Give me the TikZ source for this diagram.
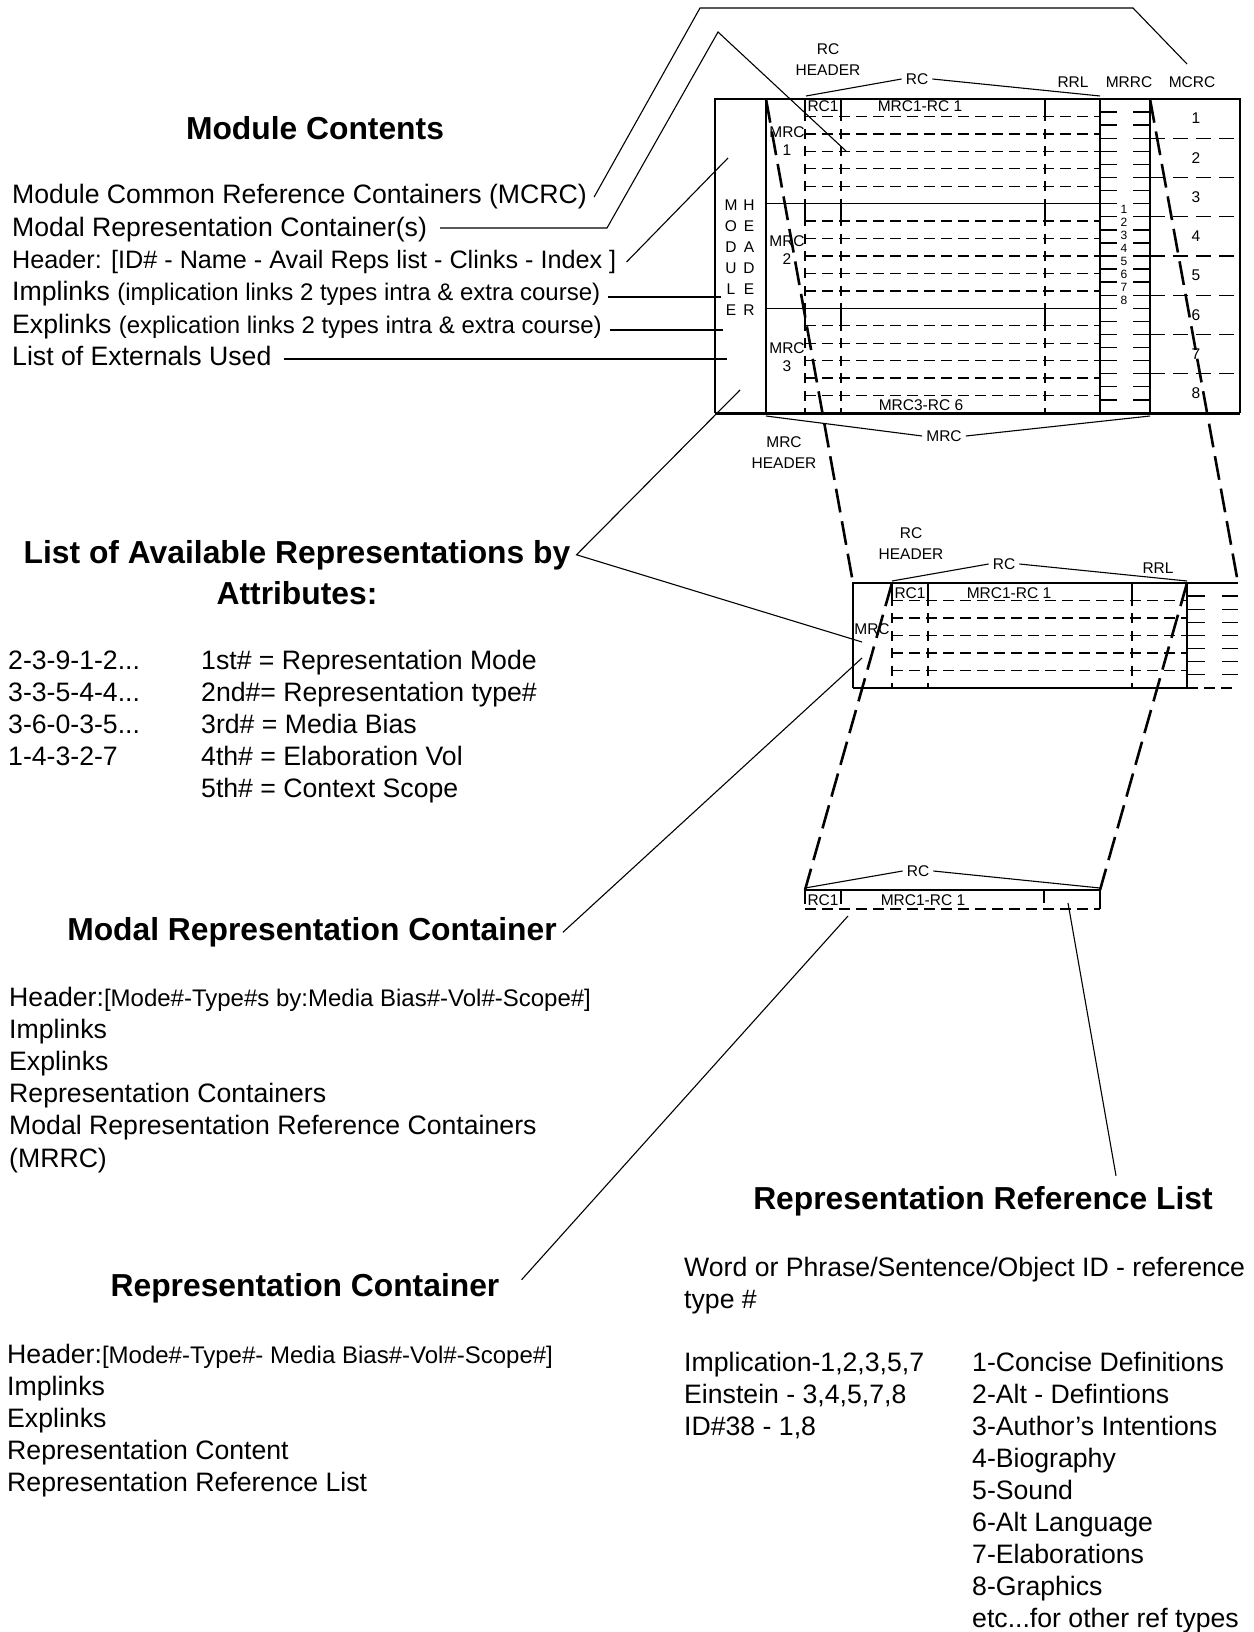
\documentclass[tikz,border=0pt]{standalone}
\usepackage{fontspec}
\setmainfont{Liberation Sans}
\usepackage{tikz}

\newcommand{\txt}{\fontsize{26.65}{31}\selectfont}
\newcommand{\sml}{\fontsize{24}{28}\selectfont}
\newcommand{\hdg}{\fontsize{31.8}{38}\selectfont\bfseries}
\newcommand{\lbl}{\fontsize{15.5}{21}\selectfont}
\newcommand{\tny}{\fontsize{12}{13}\selectfont}
\newcommand{\dts}{...}

\begin{document}
\begin{tikzpicture}[x=1pt, y=-1pt,
  body/.style={anchor=base west, inner sep=0pt, font=\txt},
  head/.style={anchor=base, inner sep=0pt, font=\hdg},
  lab/.style={inner sep=1pt, font=\lbl, align=center},
  lead/.style={line width=1.1pt},
  frame/.style={line width=1.4pt},
  rows/.style={line width=1.3pt, dash pattern=on 11pt off 6pt},
  ticks/.style={line width=1.3pt, dash pattern=on 10pt off 7.44pt, dash phase=5pt},
  link/.style={line width=2.6pt, dash pattern=on 24pt off 9pt}]
  \useasboundingbox (0,0) rectangle (1253,1632);

  %% module (top box)
  \draw[frame] (715,413) -- (715,99) -- (1240,99) -- (1240,413);
  \draw[line width=3pt] (715,413) -- (1240,413);
  \draw[frame] (766,99) -- (766,413);
  \draw[frame] (1100,99) -- (1100,413);
  \draw[frame] (1150,99) -- (1150,413);
  \draw[frame] (766,203.7) -- (1100,203.7);
  \draw[frame] (766,308.3) -- (1100,308.3);
  \foreach \m in {0,1,2}{
    \pgfmathsetmacro{\ya}{99+104.67*\m}
    \foreach \r in {1,...,5}
      \draw[rows] (805,\ya+17.44*\r) -- (1100,\ya+17.44*\r);
    \foreach \xx in {805,841,1045}{
      \draw[frame] (\xx,\ya) -- (\xx,\ya+17.44);
      \draw[ticks] (\xx,\ya+17.44) -- (\xx,\ya+104.67);
    }
  }
  % MRRC column
  \foreach \k in {1,...,23}{
    \draw[frame] (1100,99+13.08*\k) -- (1117,99+13.08*\k);
    \draw[frame] (1133,99+13.08*\k) -- (1150,99+13.08*\k);
  }
  \foreach \i in {1,...,8}
    \node[font=\tny, inner sep=0pt] (mrrc\i) at (1124,196.2+13.08*\i) {\i};
  % MCRC column
  \foreach \k in {1,...,7}
    \draw[frame, dash pattern=on 15pt off 8pt] (1150,99+39.25*\k) -- (1240,99+39.25*\k);
  \foreach \i in {1,...,8}
    \node[lab] (mcrc\i) at (1196,79.4+39.25*\i) {\i};
  % MODULE HEADER letters
  \foreach \a/\b [count=\i from 0] in {M/H,O/E,D/A,U/D,L/E,E/R}{
    \node[lab] (mha\i) at (731,205+21*\i) {\a};
    \node[lab] (mhb\i) at (749,205+21*\i) {\b};
  }
  \node[lab] (mrc1) at (787,141) {MRC\\[-3pt]1};
  \node[lab] (mrc2) at (787,250) {MRC\\[-3pt]2};
  \node[lab] (mrc3) at (787,357) {MRC\\[-3pt]3};
  \node[lab] (rc1top) at (823,106) {RC1};
  \node[lab] (rcnametop) at (920,106) {MRC1-RC 1};
  \node[lab] (rclasttop) at (921,405) {MRC3-RC 6};
  \node[lab] (rchtop) at (828,60) {RC\\HEADER};
  \node[lab] (rrltop) at (1073,82) {RRL};
  \node[lab] (mrrctop) at (1129,82) {MRRC};
  \node[lab] (mcrclab) at (1192,82) {MCRC};
  \node[lab, inner xsep=4pt] (rctop) at (917,79) {RC};
  \draw[lead] (806,96) -- (rctop.west);
  \draw[lead] (rctop.east) -- (1100,96);
  \node[lab, inner xsep=4pt] (mrcbr) at (944,436) {MRC};
  \draw[lead] (766,416) -- (mrcbr.west);
  \draw[lead] (mrcbr.east) -- (1150,416);
  \node[lab] (mrchdr) at (784,453) {MRC\\HEADER};

  %% modal representation container (middle box)
  \draw[frame] (853,688) -- (853,583) -- (1238,583);
  \draw[frame] (853,688) -- (1187,688);
  \draw[frame] (1187,583) -- (1187,688);
  \draw[frame, dash pattern=on 11pt off 6pt] (1187,688) -- (1238,688);
  \foreach \r in {1,...,5}
    \draw[rows] (892,583+17.5*\r) -- (1187,583+17.5*\r);
  \foreach \xx in {892,928,1132}{
    \draw[frame] (\xx,583) -- (\xx,600.5);
    \draw[ticks, dash pattern=on 10pt off 7.5pt] (\xx,600.5) -- (\xx,688);
  }
  \foreach \k in {1,...,7}{
    \draw[frame] (1187,583+13.1*\k) -- (1205,583+13.1*\k);
    \draw[frame] (1222,583+13.1*\k) -- (1238,583+13.1*\k);
  }
  \node[lab] (mrcmid) at (872,629) {MRC};
  \node[lab] (rc1mid) at (910,593) {RC1};
  \node[lab] (rcnamemid) at (1009,593) {MRC1-RC 1};
  \node[lab] (rchmid) at (911,544) {RC\\HEADER};
  \node[lab] (rrlmid) at (1158,568) {RRL};
  \node[lab, inner xsep=4pt] (rcmid) at (1004,564) {RC};
  \draw[lead] (892,581) -- (rcmid.west);
  \draw[lead] (rcmid.east) -- (1187,581);

  %% representation container (bottom bar)
  \draw[frame] (805,890) -- (1100,890);
  \draw[frame, dash pattern=on 11pt off 6pt] (805,909) -- (1100,909);
  \draw[frame] (805,890) -- (805,904);
  \draw[frame] (841,890) -- (841,904);
  \draw[frame] (1044,890) -- (1044,903);
  \draw[frame] (1100,890) -- (1100,909);
  \node[lab] (rc1bot) at (823,900) {RC1};
  \node[lab] (rcnamebot) at (923,900) {MRC1-RC 1};
  \node[lab, inner xsep=4pt] (rcbot) at (918,871) {RC};
  \draw[lead] (805,888) -- (rcbot.west);
  \draw[lead] (rcbot.east) -- (1100,888);

  %% zoom links
  \coordinate (mhtop) at (766,99);
  \coordinate (mcrctop) at (1150,99);
  \coordinate (midtl) at (853,583);
  \coordinate (midtr) at (1238,583);
  \coordinate (midrc) at (892,583);
  \coordinate (midrrl) at (1187,583);
  \coordinate (botl) at (805,890);
  \coordinate (botr) at (1100,890);
  \draw[link] (mhtop) -- (midtl);
  \draw[link] (mcrctop) -- (midtr);
  \draw[link] (midrc) -- (botl);
  \draw[link] (midrrl) -- (botr);

  %% module contents
  \node[head] (modhead) at (315,140) {Module Contents};
  \node[body] (mcrctxt) at (12,204) {Module Common Reference Containers (MCRC)};
  \node[body] (mrctxt) at (12,236.3) {Modal Representation Container(s)};
  \node[body, font=\fontsize{25.2}{31}\selectfont] (headtxt) at (12,268.6) {Header: [ID\# - Name - Avail Reps list - Clinks - Index ]};
  \node[body] (impltxt) at (12,300.9) {Implinks {\sml (implication links 2 types intra \& extra course)}};
  \node[body] (expltxt) at (12,333.2) {Explinks {\sml (explication links 2 types intra \& extra course)}};
  \node[body] (listtxt) at (12,365.5) {List of Externals Used};

  \coordinate (k1) at (700,8);
  \coordinate (k2) at (1133,8);
  \coordinate (mcrcend) at (1187,64);
  \coordinate (k3) at (607,228);
  \coordinate (k4) at (718,32);
  \coordinate (mrcend) at (846,151);
  \coordinate (headend) at (728,158);
  \coordinate (implend) at (721,297);
  \coordinate (explend) at (723,330);
  \coordinate (listend) at (727,359);
  \draw[lead] ([xshift=7pt]mcrctxt.east) -- (k1) -- (k2) -- (mcrcend);
  \draw[lead] ([xshift=13pt]mrctxt.east |- k3) -- (k3) -- (k4) -- (mrcend);
  \draw[lead] ([xshift=10pt]headtxt.east) -- (headend);
  \draw[lead] ([xshift=8pt]impltxt.east |- implend) -- (implend);
  \draw[lead] ([xshift=8pt]expltxt.east |- explend) -- (explend);
  \draw[lead] ([xshift=12pt]listtxt.east |- listend) -- (listend);

  %% available representations
  \node[head] (avail1) at (297,563) {List of Available Representations by};
  \node[head] (avail2) at (297,604) {Attributes:};
  \coordinate (availend) at (740,390);
  \coordinate (availmid) at (862,642);
  \draw[lead] (availend) -- ([xshift=6pt]avail1.east) -- (availmid);
  \foreach \t [count=\i from 0] in {2-3-9-1-2\dts,3-3-5-4-4\dts,3-6-0-3-5\dts,1-4-3-2-7}
    \node[body] (code\i) at (8,669.5+32.1*\i) {\t};
  \foreach \t [count=\i from 0] in {1st\# = Representation Mode,2nd\#= Representation type\#,3rd\# = Media Bias,4th\# = Elaboration Vol,5th\# = Context Scope}
    \node[body] (attr\i) at (201,669.5+32.1*\i) {\t};

  %% modal representation container text
  \node[head] (mrchead) at (312,940.5) {Modal Representation Container};
  \coordinate (mrchend) at (862,658);
  \draw[lead] ([xshift=6pt]mrchead.east) -- (mrchend);
  \node[body] (mrcl0) at (9,1006.5) {Header:{\sml[Mode\#-Type\#s by:Media Bias\#-Vol\#-Scope\#]}};
  \foreach \t [count=\i] in {Implinks,Explinks,Representation Containers,Modal Representation Reference Containers,(MRRC)}
    \node[body] (mrcl\i) at (9,1006.5+32.1*\i) {\t};

  %% representation container text
  \node[head] (rchead) at (305,1296) {Representation Container};
  \coordinate (rchend) at (848,916);
  \draw[lead] ([xshift=22pt,yshift=8pt]rchead.east) -- (rchend);
  \node[body] (rcl0) at (7,1363.5) {Header:{\sml[Mode\#-Type\#- Media Bias\#-Vol\#-Scope\#]}};
  \foreach \t [count=\i] in {Implinks,Explinks,Representation Content,Representation Reference List}
    \node[body] (rcl\i) at (7,1363.5+31.9*\i) {\t};

  %% representation reference list text
  \node[head] (rrlhead) at (983,1209) {Representation Reference List};
  \coordinate (rrlend) at (1068,903);
  \draw[lead] ([xshift=133pt,yshift=10pt]rrlhead.north) -- (rrlend);
  \node[body] (rrl0) at (684,1276.5) {Word or Phrase/Sentence/Object ID - reference};
  \node[body] (rrl1) at (684,1308.5) {type \#};
  \foreach \t [count=\i from 0] in {{Implication-1,2,3,5,7},{Einstein - 3,4,5,7,8},{ID\#38 - 1,8}}
    \node[body] (ex\i) at (684,1371.5+31.9*\i) {\t};
  \foreach \t [count=\i from 0] in {1-Concise Definitions,2-Alt - Defintions,3-Author's Intentions,4-Biography,5-Sound,6-Alt Language,7-Elaborations,8-Graphics,etc\dts for other ref types}
    \node[body] (rt\i) at (972,1371.5+32.0*\i) {\t};
\end{tikzpicture}
\end{document}
